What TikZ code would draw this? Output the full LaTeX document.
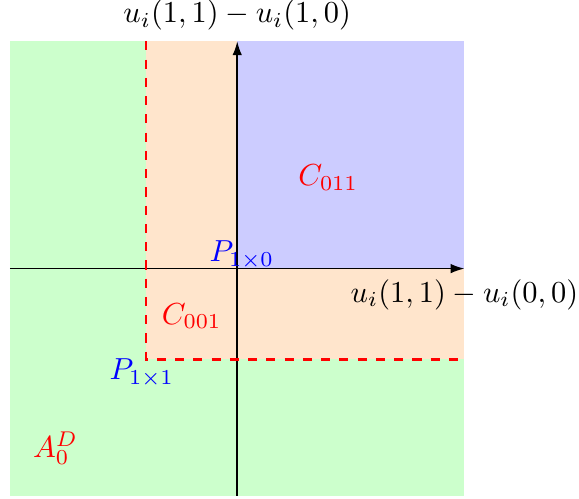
\documentclass[tikz,border=0pt]{standalone}
\usepackage{amsmath}
\usepackage{tikz}
\usetikzlibrary{arrows.meta, positioning}
\definecolor{RegGreen}{RGB}{204, 255, 204}
\definecolor{RegOrange}{RGB}{255, 229, 204}
\definecolor{RegBlue}{RGB}{204, 204, 255}

\begin{document}
\begin{tikzpicture}[x=0.525cm, y=0.525cm,
  region/.style={draw=none},
  axis/.style={-{Latex[length=1.6mm, width=1.1mm]}, black, line width=0.5pt},
  bound/.style={draw=red, dashed, line width=0.7pt},
  setlab/.style={text=red},
  ptlab/.style={text=blue},
  axlab/.style={}]
\useasboundingbox (-5.22, -5.05) rectangle (7.52, 5.91);
\fill[region, RegGreen] (-5, -5) rectangle (5, 5);
\fill[region, RegOrange] (-2, -2) rectangle (5, 5);
\fill[region, RegBlue] (0, 0) rectangle (5, 5);
\coordinate (xmin) at (-5, 0); \coordinate (xmax) at (5, 0);
\coordinate (ymin) at (0, -5); \coordinate (ymax) at (0, 5);
\coordinate (ctop) at (-2, 5); \coordinate (ccorner) at (-2, -2); \coordinate (cright) at (5, -2);
\draw[axis] (xmin) -- (xmax);
\draw[axis] (ymin) -- (ymax);
\draw[bound] (ctop) -- (ccorner) -- (cright);
\node[axlab, above] (ylab) at (ymax) {$u_i(1,1)-u_i(1,0)$};
\node[axlab, below] (xlab) at (xmax) {$u_i(1,1)-u_i(0,0)$};
\node[setlab] (c011) at (2, 2) {$C_{011}$};
\node[setlab] (c001) at (-1, -1.05) {$C_{001}$};
\node[ptlab] (p10) at (0.1, 0.3) {$P_{1\times 0}$};
\node[ptlab] (p11) at (-2.1, -2.3) {$P_{1\times 1}$};
\node[setlab] (a0d) at (-4, -3.95) {$A_0^D$};
\end{tikzpicture}
\end{document}
